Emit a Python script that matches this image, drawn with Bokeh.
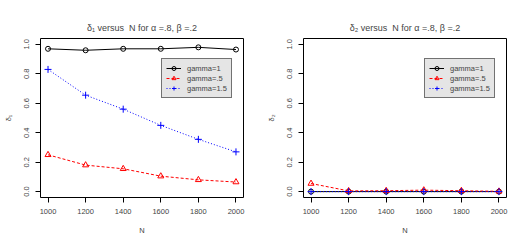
from bokeh.plotting import figure
from bokeh.layouts import row
from bokeh.models import Legend, LegendItem, FixedTicker, Range1d, PrintfTickFormatter
from bokeh.embed import file_html
from bokeh.resources import INLINE

N = [1000, 1200, 1400, 1600, 1800, 2000]
labels = ["gamma=1", "gamma=.5", "gamma=1.5"]

d1_g1 = [0.97, 0.96, 0.97, 0.97, 0.98, 0.965]
d1_g05 = [0.25, 0.18, 0.155, 0.105, 0.08, 0.065]
d1_g15 = [0.83, 0.655, 0.56, 0.45, 0.355, 0.27]

d2_g1 = [0.0, 0.0, 0.0, 0.0, 0.0, 0.0]
d2_g05 = [0.055, 0.005, 0.006, 0.01, 0.006, 0.002]
d2_g15 = [0.0, 0.0, 0.0, 0.0, 0.0, 0.0]

x_ticks = [1000, 1200, 1400, 1600, 1800, 2000]
y_ticks = [0.0, 0.2, 0.4, 0.6, 0.8, 1.0]

FONT = "Liberation Sans"


def make(title, ylabel, g1, g05, g15):
    p = figure(width=263, height=245, output_backend="svg", toolbar_location=None,
               x_range=Range1d(960, 2040), y_range=Range1d(-0.04, 1.04),
               min_border_left=38, min_border_right=20,
               min_border_top=38, min_border_bottom=48)
    p.title.text = title
    p.title.align = "center"
    p.title.text_font = FONT
    p.title.text_font_size = "9px"
    p.title.text_font_style = "normal"
    p.title.standoff = 11
    p.xgrid.visible = False
    p.ygrid.visible = False
    p.outline_line_color = "black"
    p.outline_line_alpha = 1
    p.background_fill_color = "white"
    p.border_fill_color = "white"

    for ax in (p.xaxis[0], p.yaxis[0]):
        ax.axis_line_color = "black"
        ax.major_tick_line_color = "black"
        ax.major_tick_out = 5
        ax.major_tick_in = 0
        ax.minor_tick_line_color = None
        ax.major_label_text_font = FONT
        ax.major_label_text_font_size = "7.5px"
        ax.axis_label_text_font = FONT
        ax.axis_label_text_font_size = "7.5px"
        ax.axis_label_text_font_style = "normal"
        ax.major_label_standoff = 6
    p.xaxis.ticker = FixedTicker(ticks=x_ticks)
    p.xaxis.bounds = (1000, 2000)
    p.xaxis.axis_label = "N"
    p.xaxis.axis_label_standoff = 9
    p.yaxis.ticker = FixedTicker(ticks=y_ticks)
    p.yaxis.formatter = PrintfTickFormatter(format="%.1f")
    p.yaxis.bounds = (0, 1)
    p.yaxis.major_label_orientation = "vertical"
    p.yaxis.axis_label = ylabel
    p.yaxis.axis_label_standoff = 9

    l1 = p.line(N, g1, line_color="black", line_width=1)
    m1 = p.scatter(N, g1, marker="circle", size=5, fill_color=None, line_color="black")
    l2 = p.line(N, g05, line_color="red", line_width=1, line_dash="3 2")
    m2 = p.scatter(N, g05, marker="triangle", size=6, fill_color=None, line_color="red")
    l3 = p.line(N, g15, line_color="blue", line_width=1, line_dash="1 2")
    m3 = p.scatter(N, g15, marker="cross", size=7, line_color="blue")

    legend = Legend(items=[LegendItem(label=labels[0], renderers=[l1, m1]),
                           LegendItem(label=labels[1], renderers=[l2, m2]),
                           LegendItem(label=labels[2], renderers=[l3, m3])],
                    location=(121, 99))
    legend.background_fill_color = "#E5E5E5"
    legend.background_fill_alpha = 1
    legend.border_line_color = "black"
    legend.label_text_font = FONT
    legend.label_text_font_size = "7.5px"
    legend.glyph_width = 15
    legend.glyph_height = 10
    legend.label_height = 10
    legend.spacing = 0
    legend.padding = 4
    legend.margin = 0
    legend.label_standoff = 6
    p.add_layout(legend)
    return p


p1 = make("δ₁ versus\u00a0 N for α =.8, β =.2", "δ₁", d1_g1, d1_g05, d1_g15)
p2 = make("δ₂ versus\u00a0 N for α =.8, β =.2", "δ₂", d2_g1, d2_g05, d2_g15)

layout = row(p1, p2)
open("out.html", "w").write(file_html(layout, INLINE))
